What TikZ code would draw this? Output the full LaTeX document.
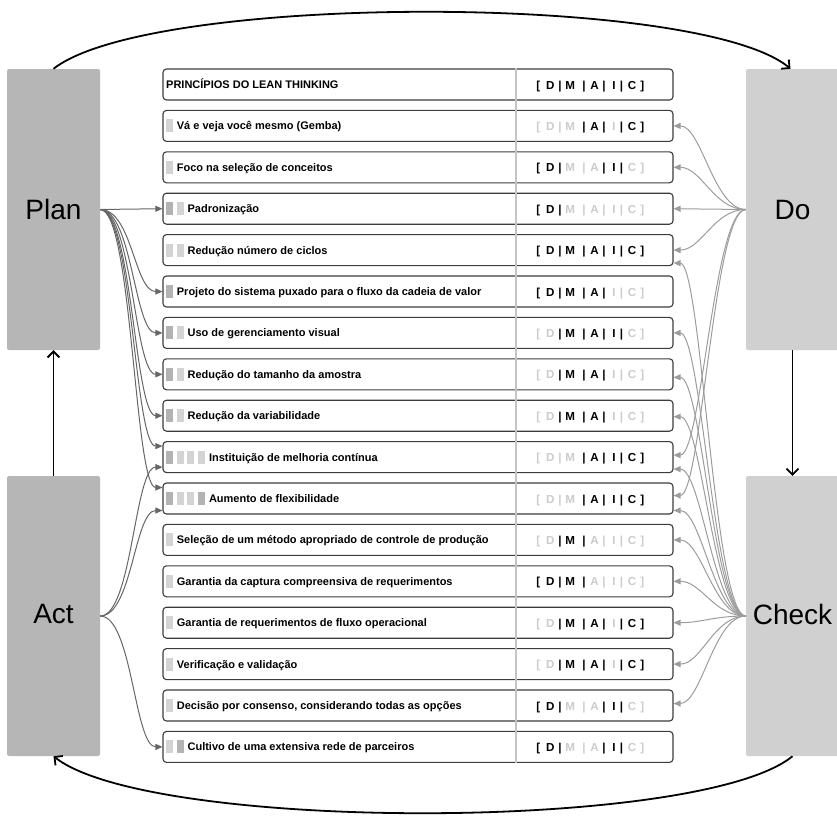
\documentclass[tikz,border=0pt]{standalone}
\usepackage{fontspec}
\setmainfont{Liberation Sans}
\usetikzlibrary{arrows.meta}

\definecolor{planfill}{HTML}{B6B6B6}
\definecolor{dofill}{HTML}{D0D0D0}
\definecolor{markdark}{HTML}{B3B3B3}
\definecolor{marklight}{HTML}{D3D3D3}
\definecolor{dimtext}{HTML}{CCCCCC}
\definecolor{leftwire}{HTML}{666666}
\definecolor{rightwire}{HTML}{9C9C9C}
\definecolor{rowline}{HTML}{3C3C3C}
\definecolor{divider}{HTML}{C4C4C4}

% colour of one code letter or separator: black when active, pale otherwise
\newcommand\pickcol[2]{\ifnum\numexpr#2\relax>0 \def#1{black}\else\def#1{dimtext}\fi}
% one glyph centred at a horizontal offset from the start of the code field
\newcommand\glyphat[3]{\rlap{\kern#1pt\makebox[0pt]{\color{#2}#3}}}

% #1 row index, #2 number of marks, #3 mark colours, #4 label, #5-#9 flags D M A I C
\newcommand\leanrow[9]{%
  \pgfmathsetmacro\cy{84.5+41.4*(#1-1)}%
  \node[rowbox] (r#1) at (418,\cy) {};
  \ifnum#2>0
    \foreach \m [count=\k] in {#3} {\fill[\m] ({166+10.7*(\k-1)},\cy-6.5) rectangle +(7,13);}
  \fi
  \node[lbl] (l#1) at ({166+10.7*#2},\cy+4) {#4};
  \pickcol\cD{#5}\pickcol\cM{#6}\pickcol\cA{#7}\pickcol\cI{#8}\pickcol\cC{#9}%
  \pickcol\pA{#5+#6}\pickcol\pB{#6+#7}\pickcol\pC{#7+#8}\pickcol\pD{#8+#9}%
  \node[codes] (c#1) at (537.7,\cy+4.6) {%
    \glyphat{0}{\cD}{[}\glyphat{11.9}{\cD}{D}\glyphat{21.6}{\pA}{|}%
    \glyphat{31.8}{\cM}{M}\glyphat{45.6}{\pB}{|}%
    \glyphat{56.1}{\cA}{A}\glyphat{65.6}{\pC}{|}%
    \glyphat{75.6}{\cI}{I}\glyphat{83.0}{\pD}{|}%
    \glyphat{93.6}{\cC}{C}\glyphat{104.0}{\cC}{]}};
}

\begin{document}
\begin{tikzpicture}[x=1pt,y=-1pt,
  phase/.style={rounded corners=2pt, minimum width=93pt, minimum height=281pt,
    inner sep=0pt, font=\fontsize{28}{32}\selectfont},
  rowbox/.style={draw=rowline, line width=1.1pt, rounded corners=3.5pt, fill=white,
    minimum width=510pt, minimum height=31pt, inner sep=0pt},
  lbl/.style={anchor=base west, inner sep=0pt, font=\fontsize{11}{13}\selectfont\bfseries},
  codes/.style={anchor=base west, inner sep=0pt, font=\fontsize{11.6}{13}\selectfont\bfseries},
  wireL/.style={draw=leftwire, line width=1pt, -{Triangle[length=7pt,width=6pt]}},
  wireR/.style={draw=rightwire, line width=1pt, -{Triangle[length=7pt,width=6pt]}},
  pdcaarrow/.style={line width=1.8pt, -{Straight Barb[length=6pt,width=12pt]}},
]
\useasboundingbox (0,0) rectangle (837,820);

% PDCA blocks
\node[phase, fill=planfill] (plan)  at (53.5,209.5) {Plan};
\node[phase, fill=planfill, minimum height=280pt] (act) at (53.5,616) {\raisebox{4pt}{Act}};
\node[phase, fill=dofill] (do)    at (792.5,209.5) {Do};
\node[phase, fill=dofill, minimum height=280pt] (check) at (792.5,616) {\raisebox{4pt}{Check}};

% principle rows
\leanrow{1}{0}{}{PRINCÍPIOS DO LEAN THINKING}{1}{1}{1}{1}{1}
\leanrow{2}{1}{marklight}{Vá e veja você mesmo (Gemba)}{0}{0}{1}{0}{1}
\leanrow{3}{1}{marklight}{Foco na seleção de conceitos}{1}{0}{0}{1}{0}
\leanrow{4}{2}{markdark,marklight}{Padronização}{1}{0}{0}{0}{0}
\leanrow{5}{2}{marklight,marklight}{Redução número de ciclos}{1}{1}{1}{1}{1}
\leanrow{6}{1}{markdark}{Projeto do sistema puxado para o fluxo da cadeia de valor}{1}{1}{1}{0}{0}
\leanrow{7}{2}{markdark,marklight}{Uso de gerenciamento visual}{0}{1}{1}{1}{0}
\leanrow{8}{2}{markdark,marklight}{Redução do tamanho da amostra}{0}{1}{1}{0}{0}
\leanrow{9}{2}{markdark,marklight}{Redução da variabilidade}{0}{1}{1}{0}{0}
\leanrow{10}{4}{markdark,marklight,marklight,marklight}{Instituição de melhoria contínua}{0}{0}{1}{1}{1}
\leanrow{11}{4}{markdark,marklight,marklight,markdark}{Aumento de flexibilidade}{0}{0}{1}{1}{1}
\leanrow{12}{1}{marklight}{Seleção de um método apropriado de controle de produção}{0}{1}{0}{0}{0}
\leanrow{13}{1}{marklight}{Garantia da captura compreensiva de requerimentos}{1}{1}{0}{0}{0}
\leanrow{14}{1}{marklight}{Garantia de requerimentos de fluxo operacional}{0}{1}{1}{0}{1}
\leanrow{15}{1}{marklight}{Verificação e validação}{0}{1}{1}{0}{1}
\leanrow{16}{1}{marklight}{Decisão por consenso, considerando todas as opções}{1}{0}{0}{1}{0}
\leanrow{17}{2}{marklight,markdark}{Cultivo de uma extensiva rede de parceiros}{1}{0}{0}{1}{0}

% column divider between principles and DMAIC codes
\draw[divider, line width=1.2pt] (r1.north west -| 516,0) -- (r17.south west -| 516,0);

% Plan links
\draw[wireL] (plan.east) -- (r4.west);
\foreach \i in {6,7,8,9}
  \draw[wireL] (plan.east) .. controls +(32,0) and +(-28,0) .. (r\i.west);
\draw[wireL] (plan.east) .. controls +(32,0) and +(-28,0) .. ([yshift=11pt]r10.west);
\draw[wireL] (plan.east) .. controls +(32,0) and +(-28,0) .. ([yshift=11pt]r11.west);

% Act links
\draw[wireL] (act.east) .. controls +(32,0) and +(-28,0) .. ([yshift=-10pt]r10.west);
\draw[wireL] (act.east) .. controls +(32,0) and +(-28,0) .. ([yshift=-12pt]r11.west);
\draw[wireL] (act.east) .. controls +(32,0) and +(-28,0) .. (r17.west);

% Do links
\foreach \i in {2,3,5}
  \draw[wireR] (do.west) .. controls +(-32,0) and +(28,0) .. (r\i.east);
\draw[wireR] (do.west) -- (r4.east);
\draw[wireR] (do.west) .. controls +(-32,0) and +(28,0) .. ([yshift=2pt]r10.east);
\draw[wireR] (do.west) .. controls +(-32,0) and +(28,0) .. ([yshift=3pt]r11.east);

% Check links
\draw[wireR] (check.west) .. controls +(-32,0) and +(28,0) .. ([yshift=-13pt]r5.east);
\draw[wireR] (check.west) .. controls +(-32,0) and +(28,0) .. (r7.east);
\draw[wireR] (check.west) .. controls +(-32,0) and +(28,0) .. ([yshift=-3pt]r8.east);
\draw[wireR] (check.west) .. controls +(-32,0) and +(28,0) .. ([yshift=-1pt]r9.east);
\draw[wireR] (check.west) .. controls +(-32,0) and +(28,0) .. ([yshift=-12pt]r10.east);
\draw[wireR] (check.west) .. controls +(-32,0) and +(28,0) .. ([yshift=-12pt]r11.east);
\foreach \i in {12,13,14,15}
  \draw[wireR] (check.west) .. controls +(-32,0) and +(28,0) .. (r\i.east);
\draw[wireR] (check.west) .. controls +(-32,0) and +(28,0) .. ([yshift=2pt]r16.east);

% PDCA cycle
\draw[pdcaarrow] (plan.north) .. controls (150,-7) and (700,-7) .. ([xshift=-2pt]do.north);
\draw[pdcaarrow] (do.south) -- (check.north);
\draw[pdcaarrow] (check.south) .. controls (700,832) and (150,832) .. (act.south);
\draw[pdcaarrow] (act.north) -- (plan.south);
\end{tikzpicture}
\end{document}
